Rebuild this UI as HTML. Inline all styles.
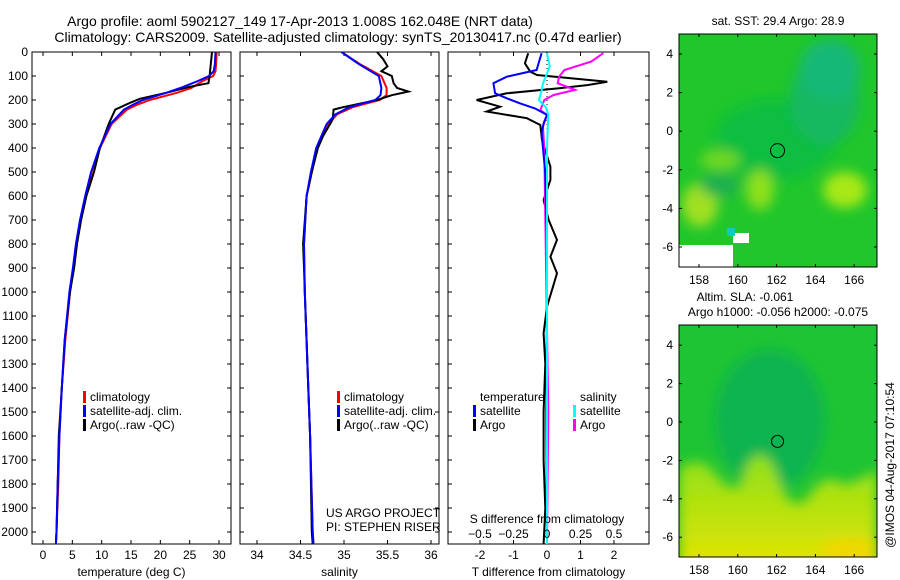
<!DOCTYPE html>
<html><head><meta charset="utf-8"><style>
body{margin:0;background:#fff}
svg{display:block;font-family:"Liberation Sans",sans-serif}
text{font-size:12px;fill:#000}
</style></head><body>
<svg id="c" width="900" height="580" xmlns="http://www.w3.org/2000/svg">
<defs>
<clipPath id="m1c"><rect x="679" y="34" width="198" height="233"/></clipPath>
<clipPath id="m2c"><rect x="679" y="325" width="198" height="232"/></clipPath>
<filter id="bl" x="-50%" y="-50%" width="200%" height="200%"><feGaussianBlur stdDeviation="6"/></filter>
<linearGradient id="yg" x1="0" y1="0" x2="0" y2="1"><stop offset="0" stop-color="#8ee01a"/><stop offset="1" stop-color="#e6e400"/></linearGradient>
</defs>
<g>
<text x="300" y="26" text-anchor="middle" style="font-size:14px">Argo profile: aoml 5902127_149 17-Apr-2013 1.008S 162.048E (NRT data)</text>
<text x="338" y="42" text-anchor="middle" style="font-size:14px">Climatology: CARS2009. Satellite-adjusted climatology: synTS_20130417.nc (0.47d earlier)</text>
</g>
<g>
<g clip-path="url(#m1c)">
<rect x="679" y="34" width="198" height="233" fill="#20c62c"/>
<g filter="url(#bl)">
<ellipse cx="775" cy="140" rx="60" ry="40" fill="#10be40"/>
<ellipse cx="825" cy="100" rx="35" ry="45" fill="#12b860"/>
<ellipse cx="830" cy="70" rx="30" ry="30" fill="#18b878"/>
<ellipse cx="845" cy="190" rx="22" ry="18" fill="#a8e818"/>
<ellipse cx="760" cy="190" rx="14" ry="20" fill="#8ee01a"/>
<ellipse cx="700" cy="205" rx="18" ry="22" fill="#a0e020"/>
<ellipse cx="720" cy="160" rx="20" ry="10" fill="#70d820"/>
<ellipse cx="720" cy="185" rx="20" ry="12" fill="#1ab050"/>
</g>
<rect x="679" y="245" width="54" height="25" fill="#fff"/>
<rect x="733" y="233" width="16" height="10" fill="#fff"/>
<rect x="727" y="228" width="8" height="8" fill="#10c8c0"/>
</g>
<rect x="679" y="34" width="198" height="233" fill="none" stroke="#000"/>
<circle id="c1" cx="0" cy="0" r="7" fill="none" stroke="#000"/>
<text x="778" y="25" text-anchor="middle">sat. SST: 29.4  Argo: 28.9</text>
</g>
<g>
<g clip-path="url(#m2c)">
<rect x="679" y="325" width="198" height="232" fill="#1ec434"/>
<g filter="url(#bl)">
<ellipse cx="770" cy="420" rx="55" ry="70" fill="#0cb450"/>
<path d="M679,500 L679,470 Q700,450 720,480 Q740,500 745,470 Q760,440 775,470 Q790,520 810,495 Q825,470 845,485 Q860,480 877,470 L877,570 L679,570 Z" fill="url(#yg)"/>
<ellipse cx="850" cy="550" rx="30" ry="12" fill="#f0d800"/>
</g>
</g>
<rect x="679" y="325" width="198" height="232" fill="none" stroke="#000"/>
<circle id="c2" cx="0" cy="0" r="6" fill="none" stroke="#000"/>
<text x="745" y="301" text-anchor="middle">Altim. SLA: -0.061</text>
<text x="778" y="316" text-anchor="middle">Argo h1000: -0.056 h2000: -0.075</text>
</g>
<text transform="translate(894,465) rotate(-90)" text-anchor="middle">@IMOS 04-Aug-2017 07:10:54</text>
<g id="g"></g>
</svg>
<script>
const depT = [0,50,80,100,120,150,170,200,220,240,300,400,500,600,700,800,900,1000,1200,1400,1600,1800,2000,2050];
const tClim = [29.6,29.5,29.4,29.0,27.3,25.3,22.8,18.2,16.0,14.3,11.7,9.7,8.3,7.3,6.4,5.7,5.2,4.6,3.8,3.2,2.8,2.6,2.3,2.2];
const tSat  = [29.4,29.3,29.1,28.3,26.5,23.4,21.0,17.0,15.3,13.8,11.5,9.6,8.2,7.2,6.3,5.6,5.1,4.5,3.7,3.2,2.8,2.5,2.3,2.2];
const depA = [0,50,100,130,145,170,195,210,240,300,400,500,600,700,800,900,1000,1200,1400,1600,1800,2000,2050];
const tArgo = [28.8,28.6,28.4,28.2,25.0,21.0,16.5,15.0,12.3,11.2,9.7,8.7,7.4,6.5,5.8,5.3,4.6,3.7,3.2,2.7,2.5,2.3,2.2];
const depS = [0,50,100,150,180,200,230,260,300,400,500,600,800,1000,1400,1600,2000,2050];
const sClim = [34.97,35.18,35.43,35.49,35.49,35.41,35.10,34.92,34.82,34.69,34.63,34.57,34.54,34.55,34.59,34.61,34.64,34.65];
const sSat  = [34.97,35.17,35.40,35.43,35.42,35.36,35.06,34.90,34.80,34.68,34.62,34.57,34.54,34.55,34.59,34.61,34.64,34.65];
const depSA = [0,30,60,80,100,130,150,165,180,200,230,240,280,300,350,400,500,600,800,900,1000,1400,1600,2000,2050];
const sArgo = [35.38,35.45,35.50,35.43,35.55,35.57,35.61,35.74,35.55,35.38,34.99,34.88,34.87,34.84,34.76,34.70,34.63,34.57,34.53,34.54,34.55,34.59,34.61,34.63,34.64];
const depDB = [5,75,103,130,172,193,214,235,262,297,339,505,783,1000,1500,2050];
const dTsat = [-0.16,-0.31,-1.2,-1.6,-1.55,-1.2,-0.8,-0.36,0,-0.1,-0.16,-0.05,0,0,-0.02,0];
const depDK = [5,47,82,96,124,138,151,172,200,228,248,276,304,367,478,533,617,700,783,853,922,1061,1172,1300,1500,1700,1900,2050];
const dTargo = [-0.56,-0.66,-0.5,-0.3,1.8,1.2,0.36,-1.2,-2.1,-1.4,-1.8,-0.6,-0.2,-0.15,0.1,0.1,-0.1,0.05,0.3,0.1,0.3,0,-0.1,-0.05,-0.1,-0.1,-0.05,-0.1];
const depDS = [5,40,75,103,130,158,179,200,242,262,311,408,800,1500,2050];
const dSargo = [0.42,0.33,0.13,0.09,0.08,0.21,0.05,-0.02,-0.05,0,-0.03,-0.02,-0.01,0.01,0];
const depDC = [5,60,90,130,160,200,230,260,400,1000,2050];
const dSsat = [0,0.02,0,-0.03,-0.04,-0.06,-0.01,0.01,0,0,0];
const depthTicks = [0,100,200,300,400,500,600,700,800,900,1000,1100,1200,1300,1400,1500,1600,1700,1800,1900,2000];
const tTicks = [0,5,10,15,20,25,30];
const sTicks = [34,34.5,35,35.5,36];
const sTickLbl = ["34","34.5","35","35.5","36"];
const dTTicks = [-2,-1,0,1,2];
const dSTicks = [-0.5,-0.25,0,0.25,0.5];
const lonTicks = [158,160,162,164,166];
const latTicks = [4,2,0,-2,-4,-6];
const argoLon = 162.048, argoLat = -1.008;

const NS='http://www.w3.org/2000/svg';
const G=document.getElementById('g');
function mk(t,a,p){const e=document.createElementNS(NS,t);for(const k in a)e.setAttribute(k,a[k]);(p||G).appendChild(e);return e;}
const Y=d=>52+d*0.24;
const TOP=52,BOT=544;
const xT=v=>43+v*5.867;
const xS=v=>257+(v-34)*87;
const xD=v=>547+v*33.5;
const xDS=v=>547+v*134;
const lonX=v=>699+(v-158)*19.4;
const lat1=v=>54+(4-v)*19.3;
const lat2=v=>422-v*19.2;

function panel(name,x0,x1,xf,ticks,lbls,title){
  const g=mk('g',{});
  
  
  mk('rect',{x:x0,y:TOP,width:x1-x0,height:BOT-TOP,fill:'none',stroke:'#000'},g);
  depthTicks.forEach(d=>{mk('line',{x1:x0,x2:x0+4,y1:Y(d),y2:Y(d),stroke:'#000'},g);mk('line',{x1:x1,x2:x1-4,y1:Y(d),y2:Y(d),stroke:'#000'},g);});
  ticks.forEach((v,i)=>{const x=xf(v);mk('line',{x1:x,x2:x,y1:TOP,y2:TOP+4,stroke:'#000'},g);mk('line',{x1:x,x2:x,y1:BOT,y2:BOT-4,stroke:'#000'},g);
    const t=mk('text',{x:x,y:559,'text-anchor':'middle'},g);t.textContent=lbls[i];});
  const tt=mk('text',{x:(x0+x1)/2,y:576,'text-anchor':'middle'},g);tt.textContent=title;
  return g;
}
function line(g,name,deps,vals,xf,col,w){
  const p=mk('polyline',{points:deps.map((d,i)=>xf(vals[i]).toFixed(1)+','+Y(d).toFixed(1)).join(' '),fill:'none',stroke:col,'stroke-width':w||2},g);
  
  
}
const yl=mk('g',{});


depthTicks.forEach(d=>{const t=mk('text',{x:28,y:Y(d)+4,'text-anchor':'end'},yl);t.textContent=d;});

const p1=panel('temperature-panel',32,231,xT,tTicks,tTicks.map(String),'temperature (deg C)');
line(p1,'temp-climatology',depT,tClim,xT,'#f00');
line(p1,'temp-argo',depA,tArgo,xT,'#000');
line(p1,'temp-satellite-adj',depT,tSat,xT,'#00f');
const p2=panel('salinity-panel',240,439,xS,sTicks,sTickLbl,'salinity');
line(p2,'sal-climatology',depS,sClim,xS,'#f00');
line(p2,'sal-argo',depSA,sArgo,xS,'#000');
line(p2,'sal-satellite-adj',depS,sSat,xS,'#00f');
const p3=panel('difference-panel',448,649,xD,dTTicks,dTTicks.map(String),'T difference from climatology');
mk('line',{x1:547,x2:547,y1:TOP,y2:BOT,stroke:'#000','stroke-dasharray':'1,3'},p3);
line(p3,'tdiff-argo',depDK,dTargo,xD,'#000');
line(p3,'sdiff-argo',depDS,dSargo,xDS,'#f0f');
line(p3,'tdiff-satellite',depDB,dTsat,xD,'#00f');
line(p3,'sdiff-satellite',depDC,dSsat,xDS,'#0ff');
dSTicks.forEach(v=>{const t=mk('text',{x:xDS(v),y:538,'text-anchor':'middle'},p3);t.textContent=String(v).replace('-','\u2212');});
{const t=mk('text',{x:547,y:523,'text-anchor':'middle'},p3);t.textContent='S difference from climatology';}

function legend(g,name,x,y,items){
  const lg=mk('g',{},g);
  
  
  items.forEach((it,i)=>{ if(it[1])mk('rect',{x:x,y:y+i*14-10,width:3,height:12,fill:it[1]},lg);
    const t=mk('text',{x:x+7,y:y+i*14},lg);t.textContent=it[0];});
}
legend(p1,'temp-legend',83,401,[['climatology','#f00'],['satellite-adj. clim.','#00f'],['Argo(..raw -QC)','#000']]);
legend(p2,'sal-legend',337,401,[['climatology','#f00'],['satellite-adj. clim.','#00f'],['Argo(..raw -QC)','#000']]);
legend(p3,'tdiff-legend',473,401,[['temperature',null],['satellite','#00f'],['Argo','#000']]);
legend(p3,'sdiff-legend',573,401,[['salinity',null],['satellite','#0ff'],['Argo','#f0f']]);
{const t=mk('text',{x:326,y:517},p2);t.textContent='US ARGO PROJECT';const u=mk('text',{x:326,y:531},p2);u.textContent='PI: STEPHEN RISER';}

function mapAxes(name,top,bot,latf,lblY){
  const g=mk('g',{});
  
  
  lonTicks.forEach(v=>{const x=lonX(v);mk('line',{x1:x,x2:x,y1:top,y2:top+3,stroke:'#000'},g);mk('line',{x1:x,x2:x,y1:bot,y2:bot-3,stroke:'#000'},g);
    const t=mk('text',{x:x,y:lblY,'text-anchor':'middle'},g);t.textContent=v;});
  latTicks.forEach(v=>{const y=latf(v);mk('line',{x1:679,x2:682,y1:y,y2:y,stroke:'#000'},g);mk('line',{x1:877,x2:874,y1:y,y2:y,stroke:'#000'},g);
    const t=mk('text',{x:673,y:y+4,'text-anchor':'end'},g);t.textContent=String(v);});
}
mapAxes('sst-map-axes',34,267,lat1,284);
mapAxes('sla-map-axes',325,557,lat2,574);
const c1=document.getElementById('c1');c1.setAttribute('cx',lonX(argoLon));c1.setAttribute('cy',lat1(argoLat));
const c2=document.getElementById('c2');c2.setAttribute('cx',lonX(argoLon));c2.setAttribute('cy',lat2(argoLat));
</script>
</body></html>
